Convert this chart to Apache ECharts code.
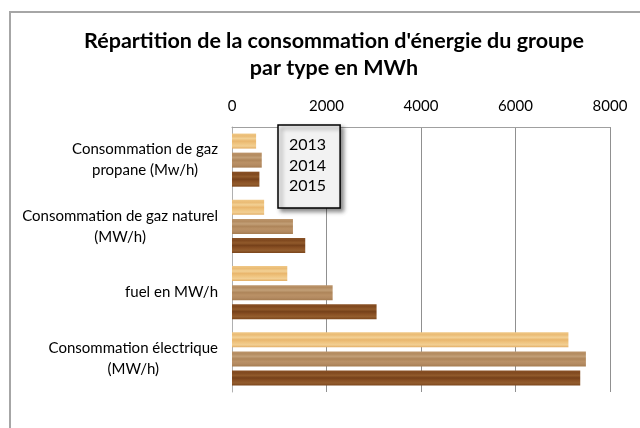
<!DOCTYPE html>
<html lang="fr">
<head>
<meta charset="UTF-8">
<title>Répartition de la consommation d'énergie</title>
<script src="https://cdn.jsdelivr.net/npm/echarts@6/dist/echarts.min.js"></script>
<style>
  html, body { margin: 0; padding: 0; background: #fff; }
  #chart { width: 640px; height: 428px; }
</style>
</head>
<body>
<div id="chart"></div>
<script>
// données (MWh)
var categories = [
    'Consommation de gaz\npropane (Mw/h)',
    'Consommation de gaz naturel\n(MW/h)',
    'fuel en MW/h',
    'Consommation électrique\n(MW/h)'
];
var years = ['2013', '2014', '2015'];
var values2013 = [510, 680, 1170, 7120];
var values2014 = [630, 1290, 2130, 7490];
var values2015 = [580, 1550, 3060, 7370];
var xTicks = [0, 2000, 4000, 6000, 8000];

// dégradés "bois" pour imiter la texture des barres
function wood(stops) {
    return {
        type: 'linear', x: 0, y: 0, x2: 0, y2: 1,
        colorStops: stops.map(function (c, i) {
            return { offset: i / (stops.length - 1), color: c };
        })
    };
}
var woodColors = [
    wood(['#f0c886', '#eabb74', '#f3d195', '#e9b66d', '#efc47f', '#f2cf93', '#e2ac62']),
    wood(['#bd966c', '#b38b60', '#c29f77', '#ae855a', '#ba9166', '#b48b62', '#a67d52']),
    wood(['#8a5226', '#80491f', '#915a2b', '#76411a', '#895024', '#935d2e', '#7c461c'])
];

var seriesValues = [values2013, values2014, values2015];

var chart = echarts.init(document.getElementById('chart'));

var option = {
    backgroundColor: '#ffffff',
    animation: false,
    title: {
        text: "Répartition de la consommation d'énergie du groupe\npar type en MWh",
        left: 329,
        top: 23,
        textAlign: 'center',
        textStyle: {
            fontFamily: 'Lato',
            fontSize: 21.5,
            fontWeight: 'bold',
            color: '#000',
            lineHeight: 27
        }
    },
    graphic: [{
        type: 'rect',
        shape: { x: 10, y: 12, width: 700, height: 500 },
        style: { fill: 'none', stroke: '#a6a6a6', lineWidth: 2 },
        z: -1
    }],
    legend: {
        data: years,
        orient: 'vertical',
        left: 278,
        top: 125,
        width: 65,
        padding: [12, 14, 14, 6],
        itemWidth: 0,
        itemHeight: 14,
        itemGap: 4.5,
        itemStyle: { opacity: 0 },
        backgroundColor: '#f2f2f2',
        borderColor: '#000',
        borderWidth: 1.5,
        shadowColor: 'rgba(0,0,0,0.45)',
        shadowBlur: 4,
        shadowOffsetX: 3,
        shadowOffsetY: 3,
        textStyle: {
            fontFamily: 'Lato',
            fontSize: 16,
            color: '#000'
        },
        z: 10
    },
    grid: {
        left: 232,
        top: 127,
        width: 378,
        height: 265
    },
    xAxis: {
        type: 'value',
        position: 'top',
        min: xTicks[0],
        max: xTicks[xTicks.length - 1],
        interval: 2000,
        axisLine: { show: true, lineStyle: { color: '#a0a0a0', width: 1 } },
        axisTick: { show: false },
        axisLabel: {
            margin: 13,
            fontFamily: 'Lato',
            fontSize: 15,
            color: '#000',
            formatter: function (v) { return String(v); }
        },
        splitLine: { show: true, lineStyle: { color: '#909090', width: 1 } }
    },
    yAxis: {
        type: 'category',
        inverse: true,
        data: categories,
        axisLine: { show: true, lineStyle: { color: '#b0b0b0', width: 1 } },
        axisTick: { show: false },
        axisLabel: {
            margin: 14,
            align: 'right',
            formatter: function (v) {
                return v.split('\n').map(function (l) { return '{c|' + l + '}'; }).join('\n');
            },
            rich: {
                c: {
                    align: 'center',
                    fontFamily: 'Lato',
                    fontSize: 15,
                    lineHeight: 21,
                    color: '#000'
                }
            }
        }
    },
    series: years.map(function (y, i) {
        return {
            name: y,
            type: 'bar',
            data: seriesValues[i],
            barWidth: 15,
            barGap: '27%',
            itemStyle: { color: woodColors[i] }
        };
    })
};

chart.setOption(option);
</script>
</body>
</html>
